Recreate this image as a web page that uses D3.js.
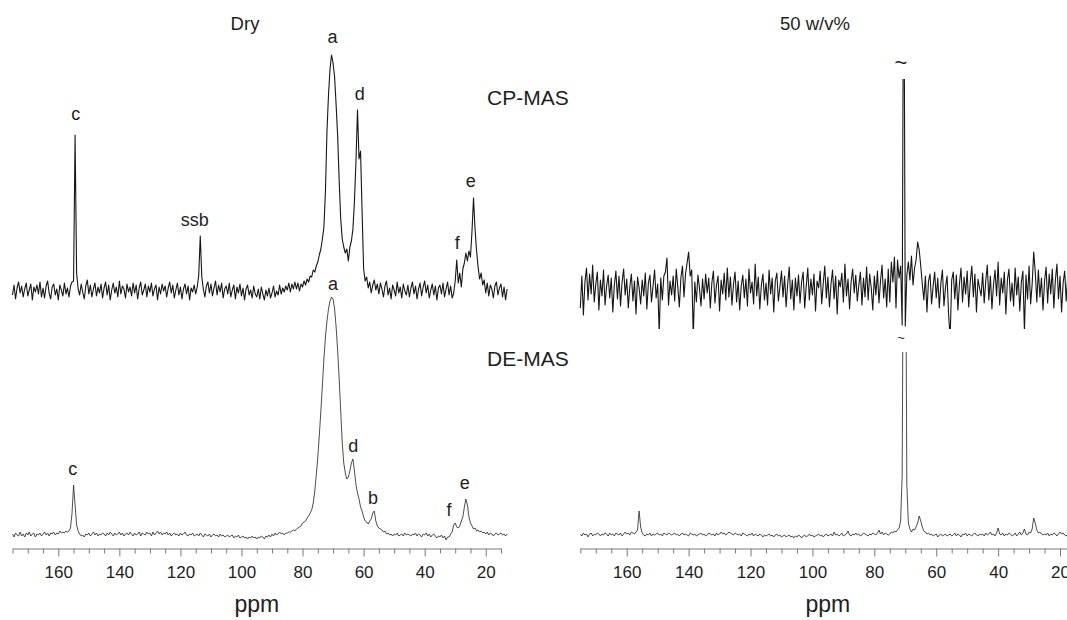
<!DOCTYPE html>
<html>
<head>
<meta charset="utf-8">
<script src="https://cdn.jsdelivr.net/npm/d3@7"></script>
<style>
  html, body { margin: 0; padding: 0; background: #fff; }
  svg { display: block; font-family: "Liberation Sans", Arial, sans-serif; }
</style>
</head>
<body>
<script>
// ---- sampling grid of the spectra (ppm) ----
const ppmStart = 175;
const ppmStep = 0.5;

// ---- 13C spectra, intensity in arbitrary units, one value per 0.5 ppm from 175 ppm down to 13 ppm ----
const dryCP = [
  -4, 6, -8, 3, 9, -2, 5, -6, 2, 8, -5, 1, 7, -9, 4, -1, 6, -3, 9, -6,
  3, -7, 5, 10, -2, -8, 4, 7, -4, 2, -9, 6, 1, -5, 8, -3, 3, -6, 5, 9,
  10, 156, 18, 2, -4, 7, -1, -8, 5, 11, -3, 6, -6, 2, 8, -5, 4, -2, 7, -7,
  3, 9, -4, 6, -9, 1, 8, -2, 4, -6, 10, -3, 5, 2, -7, 7, -1, 4, -5, 8,
  -2, 6, -8, 3, 9, -4, 1, 7, -6, 5, -1, 8, -5, 2, 6, -9, 4, -3, 7, 0,
  5, -6, 3, 9, -2, 6, -7, 1, 8, -4, 4, -8, 2, 7, -3, 5, -9, 3, -1, 6,
  -3, 4, 16, 55, 14, 2, -6, 5, 9, -2, 7, -5, 3, 10, -4, 6, -1, 8, -7, 2,
  5, -3, 8, -6, 1, 6, -8, 4, -2, 7, -5, 3, -9, 2, 6, -4, 1, -7, 5, -3,
  -6, 2, -8, 4, -3, -9, 1, -5, 3, -7, -2, 5, -6, 0, -4, 6, -3, 3, -1, 5,
  1, 8, -1, 7, 2, 9, 2, 8, 0, 7, 4, 10, 6, 12, 9, 15, 14, 21, 19, 25,
  29, 36, 42, 52, 64, 100, 160, 196, 222, 236, 228, 214, 186, 155, 110, 72, 52, 44, 38, 42,
  30, 44, 50, 62, 90, 130, 181, 132, 140, 80, 22, 10, 14, 3, 9, -2, 6, 11, 1, 7,
  -3, 8, 2, -6, 5, 10, -4, 3, -8, 6, 1, -5, 9, -2, 4, -7, 7, 0, -4, 6,
  -6, 3, 9, -3, 5, -8, 2, 8, -5, 4, 10, -2, 6, -7, 1, 7, -4, 5, -9, 3,
  6, -3, 8, -6, 2, 9, -4, 5, -7, -2, 10, 31, 8, 18, 4, 22, 28, 38, 30, 40,
  34, 60, 93, 62, 40, 24, 12, 18, 6, 11, -2, 8, -5, 6, 2, -7, 5, 9, -4, 3,
  7, -6, 4, -9, 2
];

const dryDE = [
  1, -2, 2, 0, -1, 3, -1, 1, -2, 2, 0, 3, -1, 1, 2, -2, 1, 0, 2, -1,
  1, 3, 0, 2, -1, 2, 1, 3, 0, 2, 1, 4, 2, 3, 2, 4, 3, 4, 7, 22,
  50, 30, 10, 4, 1, -1, 0, -2, 1, 0, 2, -1, 1, 3, 0, 2, -1, 1, 0, 2,
  1, -1, 2, 0, 3, 1, -1, 2, 0, 1, 3, 0, 2, -1, 1, 2, 0, 3, 1, -1,
  2, 0, 1, 3, -1, 2, 1, 0, 3, 1, 2, -1, 3, 0, 2, 4, 1, 3, 0, 2,
  1, 3, 0, 2, -1, 1, 2, 0, 1, -1, 2, 0, 1, 3, 0, -1, 1, 0, 2, -1,
  0, 1, -1, 2, 0, -2, 1, 0, -1, 1, -2, 0, 1, -1, 0, -2, 1, -1, 0, -2,
  -1, 0, -2, -1, 0, -3, -1, -2, 0, -3, -2, -1, -3, -2, -4, -2, -3, -1, -3, -2,
  -4, -2, -3, -1, -2, -4, -1, -2, 0, -2, 1, -1, 2, 0, 1, 3, 1, 2, 0, 2,
  2, 3, 3, 4, 5, 4, 6, 7, 8, 9, 12, 13, 14, 17, 19, 22, 25, 32, 44, 60,
  78, 100, 124, 150, 176, 198, 214, 226, 234, 238, 236, 226, 208, 184, 156, 124, 92, 72, 62, 56,
  58, 64, 72, 76, 64, 50, 42, 36, 28, 24, 18, 14, 13, 11, 14, 16, 22, 24, 14, 9,
  7, 6, 5, 3, 4, 1, 2, 0, 1, -1, 1, 0, 2, -1, 0, 1, -1, 2, 0, 1,
  0, -1, 1, 0, 2, -1, 1, 0, -2, 1, 0, 2, -1, 1, -2, 0, 1, -1, -3, -1,
  -2, 0, -3, -1, -5, -2, -2, 1, 3, 10, 12, 8, 7, 9, 14, 18, 28, 36, 30, 18,
  12, 9, 6, 7, 4, 5, 3, 4, 2, 3, 1, 3, 0, 2, 1, -1, 1, 2, 0, 1,
  2, 0, 1, -1, 1
];

const wetCP = [
  -18, 14, -25, 8, 22, -10, 16, -4, 25, -12, 6, 18, -20, 10, -6, 20, -15, 4, 15, -8,
  12, -22, 5, 19, -9, 14, -16, 8, 21, -5, 11, -18, 3, 16, -11, 9, -24, 13, 2, -14,
  10, -6, 17, -19, 7, 15, -12, 4, 20, -8, 6, -43, 12, -10, 14, 18, 32, -15, 9, -5,
  14, -11, 21, 3, -17, 12, 24, -7, 16, 27, 38, 14, 20, -47, 8, -12, 15, 2, -16, 11,
  -9, 16, -3, 12, -18, 7, 19, -13, 5, 14, -21, 10, -4, 17, -10, 22, -7, 13, -15, 6,
  18, -12, 9, -20, 4, 15, -8, 11, -16, 21, -3, 8, -14, 26, -6, 13, -19, 5, 16, -10,
  7, -15, 20, -4, 12, -22, 9, 17, -11, 3, 19, -7, 14, -17, 6, 23, -9, 10, -20, 12,
  -6, 15, -13, 8, 18, -18, 4, 22, -10, 11, -5, 16, -21, 9, 2, 19, -14, 7, 24, -8,
  13, -17, 6, 20, -9, 14, -24, 10, 3, 17, -12, 26, -6, 11, -19, 8, 21, -3, 15, -11,
  5, 18, -15, 12, -7, 23, -10, 16, 2, -20, 14, -5, 19, -13, 9, 25, -8, 11, -17, 21,
  -12, 28, 8, 33, -18, 30, 12, 24, -35, 400, -36, 15, 28, 10, 34, 5, 22, 30, 48, 40,
  24, 6, -10, 14, -22, 9, 16, -14, 4, 18, -8, 12, -18, 7, 20, -16, 3, 14, -25, -48,
  10, 18, -9, 15, -20, 6, 22, -12, 13, -4, 19, -17, 8, 24, -7, 16, -22, 11, 2, -6,
  17, -13, 9, 25, -10, 14, -19, 5, 20, -6, 28, -15, 12, -3, 18, -24, 10, 21, -11, 7,
  -16, 22, -5, 13, -21, 8, 19, -42, 15, -9, 24, -14, 6, 38, 18, -12, 20, -7, 12, -20,
  9, 23, -13, 16, -4, 21, -18, 10, 26, -9, 14, -22, 7, 19, -11, 15, 28, -6, 12, -15,
  8, -10, 17, -5, 12
];

const wetDE = [
  1, -1, 2, 0, 1, -2, 1, 2, -1, 1, 0, 2, 1, -1, 1, 0, 2, 1, -1, 2,
  0, 1, -1, 2, 1, 0, 2, -1, 1, 3, 1, 2, 0, 3, 2, 1, 3, 5, 24, 8,
  2, 0, -1, 1, 0, 2, -1, 1, 0, 1, 2, 0, 1, -1, 2, 1, 0, 2, 1, 0,
  1, 2, 0, 1, -1, 1, 2, 0, 1, 0, -1, 2, 1, 0, 1, -1, 0, 1, 2, 0,
  1, -1, 0, 2, 1, 0, 1, -1, 2, 0, 1, 3, 1, 2, 0, 1, 3, 2, 1, 0,
  2, 1, 0, 1, -1, 2, 1, 0, -1, 1, 0, 2, -1, 1, 0, -1, 1, 0, -2, 0,
  -1, 0, 1, -1, 0, -2, 0, 1, -1, 0, -2, -1, 0, -2, -1, 0, -2, -1, -3, -1,
  -2, 0, -1, -3, -1, 0, -2, -1, 1, -1, 0, -2, -1, 0, 1, -1, 0, -2, 0, 1,
  -1, 0, 1, -1, 3, 0, 1, -1, 0, 2, -1, 0, 1, 4, 0, -1, 1, 0, 2, 0,
  1, -1, 0, 2, 1, 0, -1, 1, 0, 2, 1, 0, 2, 5, 1, 3, 0, 2, 1, 0,
  1, 3, 2, 4, 3, 5, 7, 14, 60, 400, 400, 50, 12, 6, 3, 6, 5, 8, 12, 19,
  14, 8, 4, 3, 1, 2, 0, 1, -1, 0, 1, -2, 0, 1, -1, 0, 1, -1, 0, 1,
  -1, 0, 2, -1, 1, 0, -2, 1, 0, 2, -1, 1, 0, -1, 1, 2, 0, -1, 1, 0,
  1, -1, 2, 0, 1, 3, 0, 1, -1, 2, 7, 1, 0, 2, -1, 1, 0, 2, 1, -1,
  0, 2, -1, 1, 3, 0, 2, 6, 1, 0, 3, 2, 6, 17, 12, 5, 2, 3, 1, 0,
  1, 0, 2, -1, 1, 0, 2, 1, -1, 1, 3, 1, 2, 0, -1, 1, 0, 2, 1, 0,
  1, -1, 0, 1, 0
];

// ---- axis ticks (ppm) ----
const majorTicks = [160, 140, 120, 100, 80, 60, 40, 20];
const minorTicks = [175, 170, 165, 155, 150, 145, 135, 130, 125, 115, 110, 105, 95, 90, 85, 75, 70, 65, 55, 50, 45, 35, 30, 25, 15];

// ---- peak assignments: [label, ppm, intensity level of label baseline] ----
const dryCPLabels = [["c", 154.3, 171], ["ssb", 115.3, 65], ["a", 70.2, 248], ["d", 61.3, 191], ["f", 29.3, 42], ["e", 24.9, 104]];
const dryDELabels = [["c", 155.3, 60], ["a", 70.0, 245], ["d", 63.4, 83], ["b", 56.9, 31], ["f", 32.0, 19], ["e", 26.9, 46]];
const wetBreaks = [["~", 71.4, 228, 22], ["~", 71.4, 198, 13]];

// ---- titles ----
const panelTitles = ["Dry", "50 w/v%"];
const experimentNames = ["CP-MAS", "DE-MAS"];

// ================= drawing =================
const W = 1067, H = 620;
const svg = d3.select("body").append("svg").attr("width", W).attr("height", H);

const axisY = 548.5;
const axisColor = "#7a7a7a";
const textColor = "#1e1e1e";

const panels = [
  { title: panelTitles[0], titleX: 245, range: [12.5, 501], cp: dryCP, de: dryDE, cpBase: 291, deBase: 535, cpLabels: dryCPLabels, deLabels: dryDELabels, clip: null },
  { title: panelTitles[1], titleX: 815, range: [580.3, 1075.5], cp: wetCP, de: wetDE, cpBase: 290, deBase: 535, cpLabels: [], deLabels: [], clip: { cpTop: 79, deTop: 352 } }
];

const defs = svg.append("defs");

panels.forEach((p, pi) => {
  const x = d3.scaleLinear().domain([175, 15]).range(p.range);
  const g = svg.append("g");

  // title
  g.append("text").attr("x", p.titleX).attr("y", 29.5)
    .attr("text-anchor", "middle").attr("font-size", 18.5).attr("fill", textColor)
    .text(p.title);

  const traces = [
    { data: p.cp, base: p.cpBase, labels: p.cpLabels, top: p.clip ? p.clip.cpTop : null, color: "#161616", sw: 1.1 },
    { data: p.de, base: p.deBase, labels: p.deLabels, top: p.clip ? p.clip.deTop : null, color: "#2e2e2e", sw: 0.85 }
  ];

  traces.forEach((t, ti) => {
    const y = d3.scaleLinear().domain([0, 250]).range([t.base, t.base - 250]);
    const line = d3.line()
      .x((d, i) => x(ppmStart - i * ppmStep))
      .y(d => y(d));
    const path = g.append("path")
      .datum(t.data)
      .attr("d", line)
      .attr("fill", "none")
      .attr("stroke", t.color)
      .attr("stroke-width", t.sw)
      .attr("stroke-linejoin", "round");
    if (t.top !== null) {
      const id = "clip" + pi + "_" + ti;
      defs.append("clipPath").attr("id", id)
        .append("rect").attr("x", 0).attr("y", t.top).attr("width", W).attr("height", 250);
      path.attr("clip-path", `url(#${id})`);
    }
    t.labels.forEach(l => {
      g.append("text").attr("x", x(l[1])).attr("y", y(l[2]))
        .attr("text-anchor", "middle").attr("font-size", 18).attr("fill", textColor)
        .text(l[0]);
    });
    if (pi === 1) {
      const b = wetBreaks[ti];
      g.append("text").attr("x", x(b[1])).attr("y", y(b[2]))
        .attr("text-anchor", "middle").attr("dominant-baseline", "central")
        .attr("font-size", b[3]).attr("fill", textColor)
        .text(b[0]);
    }
  });

  // axis: minor ticks
  const minorAxis = d3.axisBottom(x).tickValues(minorTicks).tickSize(5).tickSizeOuter(0).tickFormat("");
  const gMinor = svg.append("g").attr("transform", `translate(0,${axisY})`).call(minorAxis);
  gMinor.select(".domain").attr("stroke", axisColor).attr("stroke-width", 1);
  gMinor.selectAll(".tick line").attr("stroke", axisColor);

  const majorAxis = d3.axisBottom(x).tickValues(majorTicks).tickSize(8).tickSizeOuter(0).tickPadding(9);
  const gMajor = svg.append("g").attr("transform", `translate(0,${axisY})`).call(majorAxis);
  gMajor.select(".domain").remove();
  gMajor.selectAll(".tick line").attr("stroke", axisColor);
  gMajor.selectAll(".tick text").attr("font-size", 17).attr("fill", textColor)
    .attr("font-family", "'Liberation Sans', Arial, sans-serif");

  // x-axis title
  svg.append("text").attr("x", (p.range[0] + p.range[1]) / 2).attr("y", 612)
    .attr("text-anchor", "middle").attr("font-size", 23).attr("fill", textColor)
    .text("ppm");
});

// experiment names
svg.append("text").attr("x", 487).attr("y", 104.5).attr("font-size", 21).attr("fill", textColor).text(experimentNames[0]);
svg.append("text").attr("x", 487).attr("y", 365.5).attr("font-size", 21).attr("fill", textColor).text(experimentNames[1]);
</script>
</body>
</html>
